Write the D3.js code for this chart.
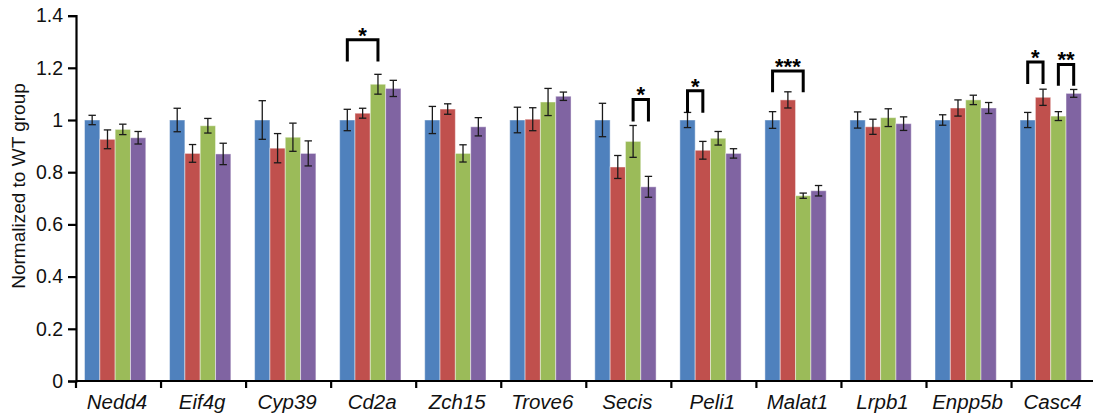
<!DOCTYPE html>
<html>
<head>
<meta charset="utf-8">
<script src="https://d3js.org/d3.v7.min.js"></script>
<style>
  body { margin: 0; background: #fff; }
  svg { display: block; font-family: "Liberation Sans", Arial, sans-serif; }
</style>
</head>
<body>
<div id="chart"></div>
<script>
// gene panel, normalized to WT group
const genes = ["Nedd4", "Eif4g", "Cyp39", "Cd2a", "Zch15", "Trove6", "Secis", "Peli1", "Malat1", "Lrpb1", "Enpp5b", "Casc4"];
const seriesNames = ["WT", "G2", "G3", "G4"];
const colors = ["#4f81bd", "#c0504d", "#9bbb59", "#8064a2"];

const wtVals = [1, 1, 1, 1, 1, 1, 1, 1, 1, 1, 1, 1];
const g2Vals = [0.926, 0.872, 0.892, 1.026, 1.042, 1.003, 0.820, 0.884, 1.077, 0.974, 1.046, 1.087];
const g3Vals = [0.964, 0.978, 0.934, 1.137, 0.872, 1.069, 0.918, 0.930, 0.710, 1.009, 1.077, 1.015];
const g4Vals = [0.932, 0.870, 0.872, 1.121, 0.974, 1.091, 0.744, 0.872, 0.729, 0.986, 1.046, 1.102];

const wtErr = [0.018, 0.045, 0.074, 0.041, 0.052, 0.049, 0.064, 0.029, 0.032, 0.031, 0.020, 0.029];
const g2Err = [0.036, 0.034, 0.056, 0.019, 0.020, 0.044, 0.044, 0.034, 0.031, 0.029, 0.031, 0.031];
const g3Err = [0.020, 0.028, 0.054, 0.038, 0.033, 0.052, 0.061, 0.026, 0.010, 0.034, 0.018, 0.017];
const g4Err = [0.024, 0.041, 0.048, 0.031, 0.035, 0.016, 0.040, 0.018, 0.020, 0.026, 0.021, 0.015];

const yTicks = [0, 0.2, 0.4, 0.6, 0.8, 1, 1.2, 1.4];

// significance brackets: gene, bar from/to, bracket top & leg end (data units)
const sigBrackets = [
  { gene: "Cd2a", from: 0, to: 2, top: 1.307, leg: 1.23, label: "*" },
  { gene: "Secis", from: 2, to: 3, top: 1.079, leg: 1.0, label: "*" },
  { gene: "Peli1", from: 0, to: 1, top: 1.112, leg: 1.034, label: "*" },
  { gene: "Malat1", from: 0, to: 2, top: 1.188, leg: 1.112, label: "***" },
  { gene: "Casc4", from: 0, to: 1, top: 1.222, leg: 1.144, label: "*" },
  { gene: "Casc4", from: 2, to: 3, top: 1.213, leg: 1.137, label: "**" }
];

const allVals = [wtVals, g2Vals, g3Vals, g4Vals];
const allErr = [wtErr, g2Err, g3Err, g4Err];

const width = 1093, height = 415;
const left = 76, bottom = 381;
const groupStep = 85.05;

const svg = d3.select("#chart").append("svg")
  .attr("width", width)
  .attr("height", height);

const x = d3.scaleBand()
  .domain(genes)
  .range([left, left + groupStep * genes.length])
  .paddingInner(0).paddingOuter(0);

const xSub = d3.scaleBand()
  .domain(d3.range(seriesNames.length))
  .range([8.5, 8.5 + 61.3]);

const y = d3.scaleLinear().domain([0, 1.4]).range([bottom, 15.6]);

// rows: one per bar
const rows = [];
genes.forEach((g, gi) => {
  allVals.forEach((vals, si) => {
    rows.push({ gene: g, s: si, v: vals[gi], e: allErr[si][gi] });
  });
});

const barX = d => x(d.gene) + xSub(d.s);
const barMid = (g, s) => x(g) + xSub(s) + xSub.bandwidth() / 2;

// bars
svg.append("g").selectAll("rect")
  .data(rows)
  .join("rect")
  .attr("x", barX)
  .attr("y", d => y(d.v))
  .attr("width", xSub.bandwidth())
  .attr("height", d => y(0) - y(d.v))
  .attr("fill", d => colors[d.s])
  .attr("stroke", "rgba(255,255,255,0.45)")
  .attr("stroke-width", 1);

// error bars
const eb = svg.append("g")
  .attr("stroke", "#1a1a1a")
  .attr("stroke-width", 1.3);
eb.selectAll("line.v")
  .data(rows).join("line").attr("class", "v")
  .attr("x1", d => barMid(d.gene, d.s)).attr("x2", d => barMid(d.gene, d.s))
  .attr("y1", d => y(d.v + d.e)).attr("y2", d => y(d.v - d.e));
["top", "bot"].forEach(k => {
  eb.selectAll("line." + k)
    .data(rows).join("line").attr("class", k)
    .attr("x1", d => barMid(d.gene, d.s) - 3.7).attr("x2", d => barMid(d.gene, d.s) + 3.7)
    .attr("y1", d => y(k === "top" ? d.v + d.e : d.v - d.e))
    .attr("y2", d => y(k === "top" ? d.v + d.e : d.v - d.e));
});

// y axis
const yAxis = svg.append("g")
  .attr("transform", `translate(${left},0)`)
  .call(d3.axisLeft(y).tickValues(yTicks).tickSize(8).tickPadding(5)
    .tickFormat(d => d3.format("~g")(d)));
yAxis.select(".domain").attr("stroke", "#000").attr("stroke-width", 2.2);
yAxis.selectAll(".tick line").attr("stroke", "#000").attr("stroke-width", 2.2);
yAxis.selectAll(".tick text")
  .attr("font-size", "19.5px")
  .attr("fill", "#111")
  .attr("font-family", "Liberation Sans, Arial, sans-serif");

// x axis: baseline with boundary ticks, labels at group centers
const xAxis = svg.append("g");
xAxis.append("line")
  .attr("x1", left).attr("x2", width)
  .attr("y1", bottom).attr("y2", bottom)
  .attr("stroke", "#000").attr("stroke-width", 2.2);
xAxis.selectAll("line.bt")
  .data(genes.concat(["_end"]))
  .join("line").attr("class", "bt")
  .attr("x1", (d, i) => left + i * x.step())
  .attr("x2", (d, i) => left + i * x.step())
  .attr("y1", bottom).attr("y2", bottom + 7)
  .attr("stroke", "#000").attr("stroke-width", 2.2);
xAxis.selectAll("text")
  .data(genes)
  .join("text")
  .attr("x", d => x(d) + x.bandwidth() / 2 - 1.5)
  .attr("y", 409)
  .attr("text-anchor", "middle")
  .attr("font-size", "20.5px")
  .attr("font-style", "italic")
  .attr("fill", "#111")
  .text(d => d);

// y label
svg.append("text")
  .attr("transform", "translate(25,186) rotate(-90)")
  .attr("text-anchor", "middle")
  .attr("font-size", "19px")
  .attr("fill", "#111")
  .text("Normalized to WT group");

// significance brackets
const sg = svg.append("g");
sg.selectAll("path")
  .data(sigBrackets)
  .join("path")
  .attr("d", d => {
    const x1 = barMid(d.gene, d.from), x2 = barMid(d.gene, d.to);
    return `M${x1},${y(d.leg)}V${y(d.top)}H${x2}V${y(d.leg)}`;
  })
  .attr("fill", "none")
  .attr("stroke", "#000")
  .attr("stroke-width", 3)
  .attr("stroke-linecap", "square");
sg.selectAll("text")
  .data(sigBrackets)
  .join("text")
  .attr("x", d => (barMid(d.gene, d.from) + barMid(d.gene, d.to)) / 2)
  .attr("y", d => y(d.top) + 3)
  .attr("text-anchor", "middle")
  .attr("font-size", "22px")
  .attr("font-weight", "bold")
  .attr("fill", "#000")
  .text(d => d.label);
</script>
</body>
</html>
